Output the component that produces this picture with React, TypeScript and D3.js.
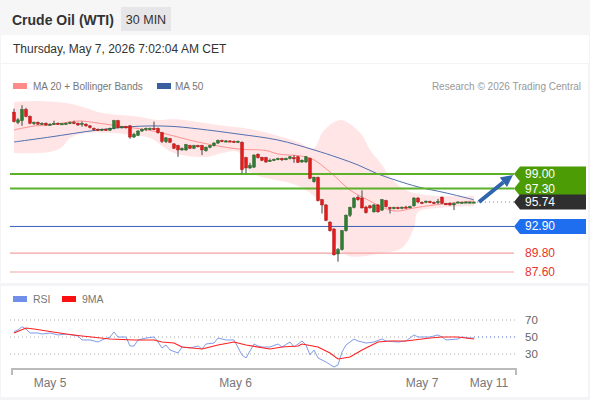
import React from "react";
import * as d3 from "d3";

const title = "Crude Oil (WTI)";
const timeframe = "30 MIN";
const dateText = "Thursday, May 7, 2026 7:02:04 AM CET";
const legendMain = ["MA 20 + Bollinger Bands", "MA 50"];
const legendRsi = ["RSI", "9MA"];
const credit = "Research \u00a9 2026 Trading Central";

const opens = [106.2,105.0,105.2,106.5,105.7,104.9,105.0,104.8,104.9,104.7,104.8,104.9,104.8,104.85,104.9,105.0,104.9,104.8,104.8,104.6,104.3,104.2,104.1,104.2,104.1,104.3,105.2,104.4,104.5,104.6,103.3,103.5,104.0,104.2,104.2,104.3,104.3,103.8,102.75,103.1,102.5,102.3,101.8,101.8,102.3,102.0,102.3,102.3,101.7,102.1,102.3,102.6,102.9,102.8,102.85,102.8,102.7,102.7,100.9,99.7,99.8,101.3,100.95,100.9,100.5,100.6,100.7,100.8,100.65,100.8,100.9,101.0,100.4,100.4,100.8,98.1,98.6,96.0,95.4,93.4,92.6,89.7,90.2,92.4,94.2,95.1,96.3,96.2,95.15,95.3,94.6,95.4,94.8,95.9,95.1,95.0,95.1,95.0,95.15,95.1,95.3,96.2,95.7,95.75,95.8,95.7,95.65,96.3,95.55,95.6,95.5,95.7,95.7,95.7,95.72,95.74];
const highs = [106.6,105.5,107.0,106.7,105.8,105.1,105.1,105.0,105.0,104.9,105.2,105.0,104.9,105.0,105.1,105.2,105.0,105.1,104.9,104.7,104.4,104.3,104.3,104.3,104.4,105.3,105.3,104.6,104.6,104.7,103.8,104.1,104.3,104.4,104.4,105.1,104.4,103.9,103.3,103.2,102.6,102.4,102.1,102.5,102.4,102.4,102.4,102.4,102.2,102.4,102.7,103.0,103.0,102.95,102.9,102.9,102.9,102.8,101.0,100.3,101.3,101.4,101.0,101.0,100.8,100.8,100.9,100.9,100.9,101.1,101.2,101.1,100.7,101.1,100.9,98.7,98.7,96.1,95.5,93.5,92.7,90.4,92.5,94.3,95.2,96.3,96.5,97.1,95.3,95.4,95.5,95.5,96.1,96.0,95.2,95.2,95.2,95.2,95.3,95.3,96.3,96.3,95.8,95.9,95.9,95.8,96.1,96.4,95.65,95.7,95.7,95.8,95.8,95.8,95.8,95.8];
const lows = [105.0,104.8,104.6,105.6,104.8,104.7,104.7,104.7,104.6,104.6,104.7,104.7,104.7,104.7,104.8,104.8,104.6,104.5,104.5,104.3,104.0,104.0,104.0,104.0,104.0,104.2,104.3,104.3,104.3,103.1,103.2,103.4,103.9,104.0,104.1,104.1,103.7,102.6,102.6,102.6,101.9,101.0,101.7,101.7,101.9,101.9,102.1,101.2,101.6,102.0,102.2,102.5,102.7,102.7,102.7,102.6,102.6,99.1,99.1,99.6,99.7,100.8,100.5,100.3,100.4,100.5,100.6,100.5,100.6,100.7,100.3,100.3,100.3,100.3,98.4,98.0,95.8,94.4,93.5,92.3,89.5,88.8,90.1,92.3,94.0,95.0,95.9,95.0,94.4,95.0,94.5,94.5,94.7,95.1,94.4,94.9,94.9,94.9,95.0,95.0,95.2,95.6,95.5,95.6,95.6,95.5,95.5,95.5,95.4,95.3,94.8,95.6,95.6,95.6,95.6,95.7];
const closes = [105.1,105.3,106.5,105.7,104.9,105.0,104.8,104.9,104.7,104.8,104.9,104.8,104.85,104.9,105.0,104.9,104.7,104.9,104.6,104.4,104.2,104.1,104.2,104.1,104.3,105.2,104.4,104.5,104.4,103.3,103.6,104.0,104.2,104.3,104.3,104.2,103.8,102.8,103.2,102.7,102.0,101.8,101.95,102.4,102.0,102.3,102.2,101.8,102.1,102.3,102.6,102.9,102.8,102.85,102.8,102.7,102.8,99.5,99.7,100.0,101.2,100.9,100.6,100.4,100.6,100.7,100.8,100.65,100.8,101.0,100.8,100.35,100.6,101.0,98.5,98.6,95.9,95.4,93.6,92.4,89.6,90.2,92.4,94.2,95.1,96.2,96.0,95.05,94.5,95.05,95.4,94.6,96.0,95.2,95.0,95.1,95.0,95.15,95.1,95.2,96.2,95.75,95.65,95.85,95.75,95.65,95.8,95.6,95.5,95.4,95.55,95.75,95.7,95.75,95.74,95.74];

const ma20Idx = [0,5,9,16,21,26,31,36,46,56,63,66,74,79,84,88,95,100,105,115];
const ma20Val = [104.12,104.58,104.70,105.16,104.93,104.58,104.29,103.88,102.72,101.91,101.73,101.33,100.86,99.23,97.14,96.09,94.70,95.05,95.40,95.86];
const ma50Idx = [0,9,21,31,39,46,56,66,75,81,86,91,96,101,108,115];
const ma50Val = [102.72,103.30,104.12,104.55,104.55,104.25,103.65,102.95,101.8,100.9,100.05,99.0,98.2,97.5,96.8,96.0];
const bbUpperIdx = [0,4,13,18,21,26,30,36,40,46,51,59,67,71,75,77,80,82,84,87,89,92,94,97,100,106,115];
const bbUpperVal = [107.37,107.49,107.26,106.67,106.21,105.86,105.74,105.28,105.40,105.05,104.70,104.23,103.30,102.72,102.02,103.77,105.05,105.28,104.81,103.53,101.79,100.05,98.65,97.37,96.79,96.44,96.44];
const bbLowerIdx = [0,9,12,14,18,24,30,34,40,48,52,56,59,63,69,73,77,79,83,92,97,100,101,106,115];
const bbLowerVal = [101.44,101.56,102.14,103.19,103.77,103.77,103.53,103.19,101.44,100.98,101.44,101.56,99.23,98.53,97.95,97.14,95.40,92.49,89.58,89.81,90.40,92.72,94.58,95.05,95.28];

const rsiIdx = [0,1,2,3,4,6,7,9,11,13,16,17,19,21,22,24,25,26,28,29,30,31,33,35,36,37,38,39,41,42,44,46,47,48,50,51,53,55,57,58,60,61,62,64,66,67,69,70,72,73,74,75,76,78,80,81,82,83,85,86,88,90,92,93,96,98,100,101,104,106,107,108,111,112,114,115];
const rsiVal = [56.2,58.2,62.1,59.4,54.7,54.7,53.5,54.7,52.4,53.5,51.2,46.5,46.5,44.1,46.5,50,55.9,50,50,39.4,39.4,46.5,48.8,50,44.1,37.1,40.6,34.7,31.2,38.2,37.1,39.4,35.9,41.8,42.9,48.8,46.5,46.5,28.8,25.3,41.8,39.4,38.2,38.2,41.8,38.2,44.1,38.2,45.3,40.6,28.8,34.7,25.3,20.6,14.7,17.1,32.4,40.6,47.6,45.3,42.9,44.1,47.6,45.3,44.1,45.3,52.4,50,50,52.4,50,46.5,47.6,50,48.8,48.8];
const rsiMaIdx = [0,3,5,13,17,24,30,35,37,40,42,47,51,55,58,64,67,71,72,76,79,81,84,87,91,94,98,104,107,111,115];
const rsiMaVal = [54.7,60.6,59.4,53.5,51.2,47.6,46.5,46.5,44.1,42.9,38.2,35.9,40.6,44.1,40.6,35.9,38.2,39.4,41.8,38.2,31.2,24.1,26.5,34.7,44.1,45.3,45.3,48.8,50,50,47.6];
const rsiLevels = [70, 50, 30];

const resistances = [99.0, 97.3];
const lastPrice = 95.74;
const pivot = 92.9;
const supports = [89.8, 87.6];

const tickLabels = ["May 5", "May 6", "May 7", "May 11"];
const tickIdx = [9, 55.4, 102, 118.75];

const FONT = "Liberation Sans, Arial, Helvetica, sans-serif";
const W = 590, H = 400;

export default function App() {
  const x = d3.scaleLinear().domain([0, 115]).range([14, 474]);
  const y = d3.scaleLinear().domain([87.6, 99]).range([272, 174]);
  const yr = d3.scaleLinear().domain([30, 70]).range([354, 320]);
  const plotL = 10, plotR = 514;

  const curve = d3.curveCatmullRom.alpha(0.5);
  const lineP = d3.line<[number, number]>().x(d => x(d[0])).y(d => y(d[1])).curve(curve);
  const lineR = d3.line<[number, number]>().x(d => x(d[0])).y(d => yr(d[1])).curve(d3.curveLinear);
  const zip = (a: number[], b: number[]) => a.map((v, i) => [v, b[i]] as [number, number]);

  const up = lineP(zip(bbUpperIdx, bbUpperVal)) || "";
  const lowRev = (lineP(zip(bbLowerIdx, bbLowerVal).reverse()) || "").replace(/^M/, "L");
  const bandPath = up + lowRev + "Z";

  const tag = (yc: number, h = 15) =>
    `M${plotR},${yc} L${plotR + 6},${yc - h / 2} L586,${yc - h / 2} L586,${yc + h / 2} L${plotR + 6},${yc + h / 2} Z`;

  const lastX = x(115) + 3;
  const lastY = y(lastPrice);
  const tipX = plotR - 1, tipY = y(resistances[0]) + 1;
  const dx = tipX - lastX, dy = tipY - lastY;
  const len = Math.hypot(dx, dy);
  const ux = dx / len, uy = dy / len;
  const bx = tipX - ux * 12, by = tipY - uy * 12;
  const nx = -uy, ny = ux;

  const cw = 3;

  return (
    <svg width={W} height={H} style={{ position: "fixed", left: 0, top: 0, background: "#fff" }} fontFamily={FONT}>
      <rect x={0} y={0} width={W} height={H} fill="#f4f4f6" />
      <rect x={0} y={0} width={W} height={35} fill="#f6f6f7" />
      <rect x={1} y={35} width={W - 2} height={28} fill="#fff" />
      <text x={12} y={25} fontSize={14} fontWeight="bold" fill="#333">{title}</text>
      <rect x={121} y={7} width={50} height={24} fill="#e6e6e8" />
      <text x={146} y={24} fontSize={12.5} fill="#333" textAnchor="middle">{timeframe}</text>
      <text x={13} y={53} fontSize={12} fill="#333">{dateText}</text>

      <rect x={1} y={64} width={W - 3} height={219} fill="#fff" />
      <rect x={1} y={286} width={W - 3} height={111} fill="#fff" />

      {/* legend */}
      <rect x={13} y={83} width={14} height={6} fill="#ff8a8a" />
      <text x={33} y={90} fontSize={10} fill="#777">{legendMain[0]}</text>
      <rect x={157} y={83} width={14} height={6} fill="#3a5fa0" />
      <text x={175} y={90} fontSize={10} fill="#777">{legendMain[1]}</text>
      <text x={581} y={90} fontSize={10} fill="#999" textAnchor="end">{credit}</text>

      {/* bands */}
      <path d={bandPath} fill="#ffe0e0" fillOpacity={0.85} />
      <path d={lineP(zip(ma20Idx, ma20Val)) || ""} fill="none" stroke="#ff9090" strokeWidth={1} />
      <path d={lineP(zip(ma50Idx, ma50Val)) || ""} fill="none" stroke="#5070b0" strokeWidth={1} />

      {/* levels */}
      {resistances.map(r => (
        <line key={r} x1={plotL} x2={plotR} y1={y(r)} y2={y(r)} stroke="#5cb02a" strokeWidth={2} />
      ))}
      <line x1={plotL} x2={plotR} y1={y(pivot)} y2={y(pivot)} stroke="#3a5fb8" strokeWidth={1} />
      {supports.map(s => (
        <line key={s} x1={plotL} x2={plotR} y1={y(s)} y2={y(s)} stroke="#f5a3a3" strokeWidth={1.2} />
      ))}
      <line x1={lastX} x2={plotR} y1={lastY} y2={lastY} stroke="#888" strokeWidth={1} strokeDasharray="1,3" />

      {/* candles */}
      {closes.map((c, i) => {
        const o = opens[i];
        const cx = x(i);
        const top = y(Math.max(o, c));
        const bot = y(Math.min(o, c));
        const bull = c >= o;
        return (
          <g key={i}>
            <line x1={cx} x2={cx} y1={y(highs[i])} y2={y(lows[i])} stroke="#444" strokeWidth={1} />
            <rect x={cx - cw / 2} y={top} width={cw} height={Math.max(1.2, bot - top)}
              fill={bull ? "#2e7d32" : "#e31b1b"} stroke={bull ? "#1d5a20" : "#a01010"} strokeWidth={0.4} />
          </g>
        );
      })}

      {/* arrow */}
      <line x1={lastX + 2} y1={lastY} x2={bx} y2={by} stroke="#2f65ad" strokeWidth={4} />
      <path d={`M${tipX},${tipY} L${bx + nx * 6},${by + ny * 6} L${bx - nx * 6},${by - ny * 6} Z`} fill="#2f65ad" />

      {/* tags */}
      {resistances.map(r => (
        <path key={r} d={tag(y(r))} fill="#4c9c06" />
      ))}
      <path d={tag(y(lastPrice))} fill="#2f2f2f" />
      <path d={tag(y(pivot))} fill="#1f6ef0" />
      {resistances.map(r => (
        <text key={r} x={525} y={y(r) + 4} fontSize={12} fill="#fff">{r.toFixed(2)}</text>
      ))}
      <text x={525} y={lastY + 4} fontSize={12} fill="#fff">{lastPrice.toFixed(2)}</text>
      <text x={525} y={y(pivot) + 4} fontSize={12} fill="#fff">{pivot.toFixed(2)}</text>
      {supports.map(s => (
        <text key={s} x={525} y={y(s) + 4} fontSize={12} fill="#e8342c">{s.toFixed(2)}</text>
      ))}

      {/* RSI panel */}
      <rect x={13} y={296} width={14} height={6} fill="#6f8fe8" />
      <text x={33} y={303} fontSize={10.5} fill="#777">{legendRsi[0]}</text>
      <rect x={62} y={296} width={14} height={6} fill="#ff1010" />
      <text x={82} y={303} fontSize={10.5} fill="#777">{legendRsi[1]}</text>
      {rsiLevels.map(l => (
        <g key={l}>
          <line x1={plotL} x2={plotR + 2} y1={yr(l)} y2={yr(l)} stroke="#aaa" strokeWidth={1} strokeDasharray="1,3" />
          <text x={525} y={yr(l) + 4} fontSize={11.5} fill="#666">{l}</text>
        </g>
      ))}
      <line x1={x(115)} x2={plotR + 2} y1={yr(50)} y2={yr(50)} stroke="#6f8fe8" strokeWidth={1} strokeDasharray="1,3" />
      <path d={lineR(zip(rsiIdx, rsiVal)) || ""} fill="none" stroke="#7f9ce8" strokeWidth={1} />
      <path d={lineR(zip(rsiMaIdx, rsiMaVal)) || ""} fill="none" stroke="#ff2020" strokeWidth={1.1} />

      {/* x axis */}
      <line x1={12} x2={516} y1={369} y2={369} stroke="#bbb" strokeWidth={2} />
      <line x1={12} x2={12} y1={368} y2={375} stroke="#bbb" strokeWidth={2} />
      <line x1={516} x2={516} y1={368} y2={375} stroke="#bbb" strokeWidth={2} />
      {tickLabels.map((t, i) => (
        <text key={t} x={x(tickIdx[i])} y={387} fontSize={12} fill="#777" textAnchor="middle">{t}</text>
      ))}
    </svg>
  );
}
